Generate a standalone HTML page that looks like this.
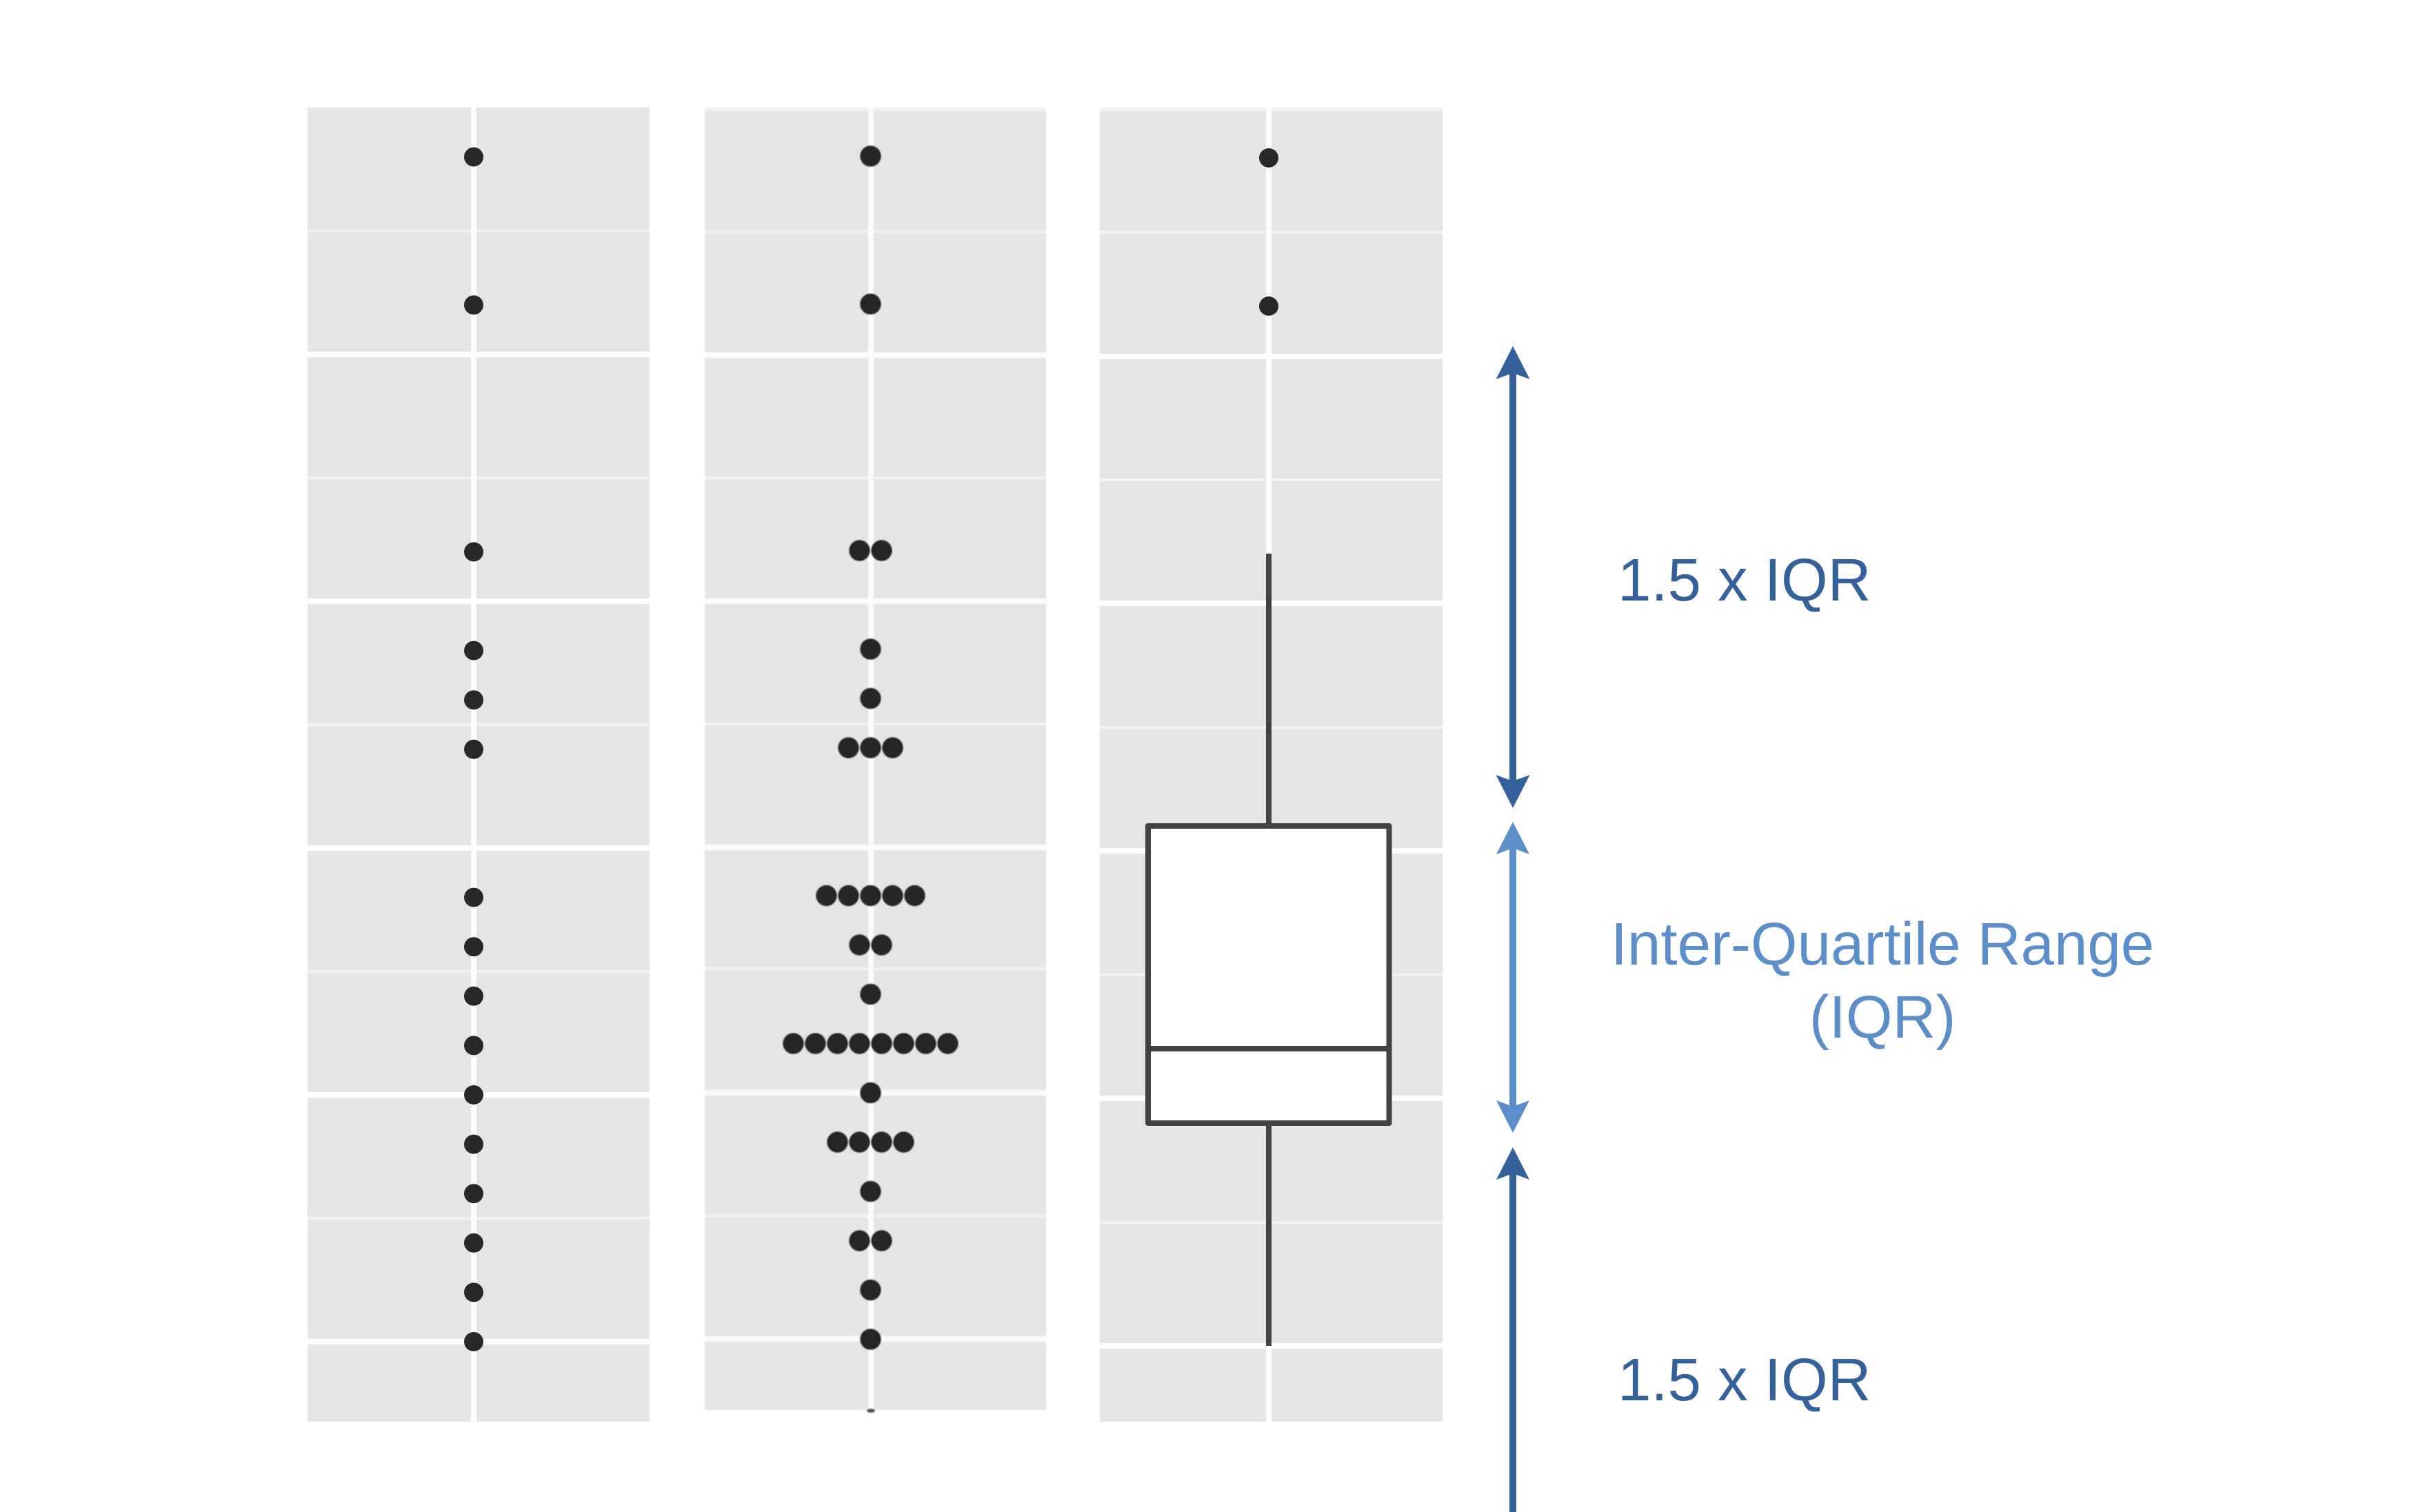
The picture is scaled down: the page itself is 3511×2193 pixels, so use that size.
<!DOCTYPE html>
<html>
<head>
<meta charset="utf-8">
<style>
  html, body { margin:0; padding:0; background:#ffffff; }
  body { width:3511px; height:2193px; overflow:hidden; }
  svg { display:block; }
  text { font-family:"Liberation Sans", Arial, sans-serif; }
</style>
</head>
<body>
<svg width="3511" height="2193" viewBox="0 0 3511 2193" xmlns="http://www.w3.org/2000/svg">
  <defs>
    <filter id="soft" x="-5%" y="-5%" width="110%" height="110%">
      <feGaussianBlur stdDeviation="0.9"/>
    </filter>
  </defs>
  <rect x="0" y="0" width="3511" height="2193" fill="#ffffff"/>

  <!-- ============ PANEL 1 ============ -->
  <g>
    <rect x="446" y="156" width="496" height="1906" fill="#e5e5e5"/>
    <!-- minor grid -->
    <g stroke="#f2f2f2" stroke-width="4">
      <line x1="446" x2="942" y1="335" y2="335"/>
      <line x1="446" x2="942" y1="693" y2="693"/>
      <line x1="446" x2="942" y1="1051" y2="1051"/>
      <line x1="446" x2="942" y1="1409" y2="1409"/>
      <line x1="446" x2="942" y1="1767" y2="1767"/>
    </g>
    <!-- major grid -->
    <g stroke="#ffffff" stroke-width="8">
      <line x1="446" x2="942" y1="514" y2="514"/>
      <line x1="446" x2="942" y1="872" y2="872"/>
      <line x1="446" x2="942" y1="1230" y2="1230"/>
      <line x1="446" x2="942" y1="1588" y2="1588"/>
      <line x1="446" x2="942" y1="1946" y2="1946"/>
      <line x1="687" x2="687" y1="156" y2="2062"/>
    </g>
    <g fill="#282828">
      <circle cx="687" cy="1946" r="14"/>
      <circle cx="687" cy="1874.4" r="14"/>
      <circle cx="687" cy="1802.8" r="14"/>
      <circle cx="687" cy="1731.2" r="14"/>
      <circle cx="687" cy="1659.6" r="14"/>
      <circle cx="687" cy="1588" r="14"/>
      <circle cx="687" cy="1516.4" r="14"/>
      <circle cx="687" cy="1444.8" r="14"/>
      <circle cx="687" cy="1373.2" r="14"/>
      <circle cx="687" cy="1301.6" r="14"/>
      <circle cx="687" cy="1086.8" r="14"/>
      <circle cx="687" cy="1015.2" r="14"/>
      <circle cx="687" cy="943.6" r="14"/>
      <circle cx="687" cy="800.4" r="14"/>
      <circle cx="687" cy="442.4" r="14"/>
      <circle cx="687" cy="227.6" r="14"/>
    </g>
  </g>

  <!-- ============ PANEL 2 (dot plot) ============ -->
  <g filter="url(#soft)">
    <rect x="1022" y="156" width="495" height="1889" fill="#e5e5e5"/>
    <rect x="1022" y="156" width="495" height="5" fill="#f1f1f1"/>
    <g stroke="#f2f2f2" stroke-width="4">
      <line x1="1022" x2="1517" y1="336" y2="336"/>
      <line x1="1022" x2="1517" y1="693" y2="693"/>
      <line x1="1022" x2="1517" y1="1050" y2="1050"/>
      <line x1="1022" x2="1517" y1="1405" y2="1405"/>
      <line x1="1022" x2="1517" y1="1763.5" y2="1763.5"/>
    </g>
    <g stroke="#fbfbfb" stroke-width="8">
      <line x1="1022" x2="1517" y1="515" y2="515"/>
      <line x1="1022" x2="1517" y1="872" y2="872"/>
      <line x1="1022" x2="1517" y1="1229" y2="1229"/>
      <line x1="1022" x2="1517" y1="1585" y2="1585"/>
      <line x1="1022" x2="1517" y1="1942" y2="1942"/>
      <line x1="1263" x2="1263" y1="156" y2="2045"/>
    </g>
    <g fill="#282828">
      <!-- k0 -->
      <circle cx="1262.5" cy="1942.5" r="15.5"/>
      <!-- k1 -->
      <circle cx="1262.5" cy="1871" r="15.5"/>
      <!-- k2 : 2 -->
      <circle cx="1246.5" cy="1799.5" r="15.5"/>
      <circle cx="1278.5" cy="1799.5" r="15.5"/>
      <!-- k3 -->
      <circle cx="1262.5" cy="1728" r="15.5"/>
      <!-- k4 : 4 -->
      <circle cx="1214.5" cy="1656.5" r="15.5"/>
      <circle cx="1246.5" cy="1656.5" r="15.5"/>
      <circle cx="1278.5" cy="1656.5" r="15.5"/>
      <circle cx="1310.5" cy="1656.5" r="15.5"/>
      <!-- k5 -->
      <circle cx="1262.5" cy="1585" r="15.5"/>
      <!-- k6 : 8 -->
      <circle cx="1150.5" cy="1513.5" r="15.5"/>
      <circle cx="1182.5" cy="1513.5" r="15.5"/>
      <circle cx="1214.5" cy="1513.5" r="15.5"/>
      <circle cx="1246.5" cy="1513.5" r="15.5"/>
      <circle cx="1278.5" cy="1513.5" r="15.5"/>
      <circle cx="1310.5" cy="1513.5" r="15.5"/>
      <circle cx="1342.5" cy="1513.5" r="15.5"/>
      <circle cx="1374.5" cy="1513.5" r="15.5"/>
      <!-- k7 -->
      <circle cx="1262.5" cy="1442" r="15.5"/>
      <!-- k8 : 2 -->
      <circle cx="1246.5" cy="1370.5" r="15.5"/>
      <circle cx="1278.5" cy="1370.5" r="15.5"/>
      <!-- k9 : 5 -->
      <circle cx="1198.5" cy="1299" r="15.5"/>
      <circle cx="1230.5" cy="1299" r="15.5"/>
      <circle cx="1262.5" cy="1299" r="15.5"/>
      <circle cx="1294.5" cy="1299" r="15.5"/>
      <circle cx="1326.5" cy="1299" r="15.5"/>
      <!-- k12 : 3 -->
      <circle cx="1230.5" cy="1084.5" r="15.5"/>
      <circle cx="1262.5" cy="1084.5" r="15.5"/>
      <circle cx="1294.5" cy="1084.5" r="15.5"/>
      <!-- k13 -->
      <circle cx="1262.5" cy="1013" r="15.5"/>
      <!-- k14 -->
      <circle cx="1262.5" cy="941.5" r="15.5"/>
      <!-- k16 : 2 -->
      <circle cx="1246.5" cy="798.5" r="15.5"/>
      <circle cx="1278.5" cy="798.5" r="15.5"/>
      <!-- k21 -->
      <circle cx="1262.5" cy="441" r="15.5"/>
      <!-- k24 -->
      <circle cx="1262.5" cy="226.5" r="15.5"/>
    </g>
    <ellipse cx="1263" cy="2046" rx="6" ry="3" fill="#555555"/>
  </g>

  <!-- ============ PANEL 3 (box plot) ============ -->
  <g>
    <rect x="1595" y="156" width="497" height="1906" fill="#e5e5e5"/>
    <rect x="1595" y="156" width="497" height="5" fill="#f1f1f1"/>
    <g stroke="#f2f2f2" stroke-width="4">
      <line x1="1595" x2="2092" y1="337" y2="337"/>
      <line x1="1595" x2="2092" y1="696" y2="696"/>
      <line x1="1595" x2="2092" y1="1055" y2="1055"/>
      <line x1="1595" x2="2092" y1="1413.5" y2="1413.5"/>
      <line x1="1595" x2="2092" y1="1773" y2="1773"/>
    </g>
    <g stroke="#ffffff" stroke-width="8">
      <line x1="1595" x2="2092" y1="517" y2="517"/>
      <line x1="1595" x2="2092" y1="875" y2="875"/>
      <line x1="1595" x2="2092" y1="1234" y2="1234"/>
      <line x1="1595" x2="2092" y1="1593" y2="1593"/>
      <line x1="1595" x2="2092" y1="1952" y2="1952"/>
      <line x1="1840" x2="1840" y1="156" y2="2062"/>
    </g>
    <g fill="#282828">
      <circle cx="1840" cy="229" r="14"/>
      <circle cx="1840" cy="444" r="14"/>
    </g>
    <!-- whiskers -->
    <g stroke="#424242" stroke-width="8">
      <line x1="1840" x2="1840" y1="803" y2="1198"/>
      <line x1="1840" x2="1840" y1="1629" y2="1952"/>
    </g>
    <!-- box -->
    <rect x="1665" y="1198" width="349.5" height="431" fill="#ffffff" stroke="#424242" stroke-width="8" stroke-linejoin="round"/>
    <line x1="1665" x2="2014.5" y1="1521" y2="1521" stroke="#424242" stroke-width="8"/>
  </g>

  <!-- ============ ARROWS ============ -->
  <!-- upper dark double arrow -->
  <g fill="#34609c">
    <rect x="2189" y="536" width="10" height="602"/>
    <polygon points="2194,502 2218.5,550 2194,541 2169.5,550"/>
    <polygon points="2194,1172 2218.5,1124 2194,1133 2169.5,1124"/>
  </g>
  <!-- light IQR double arrow -->
  <g fill="#5b8ecb">
    <rect x="2189" y="1226" width="10" height="384"/>
    <polygon points="2194,1192 2218,1239 2194,1230 2170,1239"/>
    <polygon points="2194,1643 2218,1596 2194,1605 2170,1596"/>
  </g>
  <!-- lower dark arrow -->
  <g fill="#34609c">
    <rect x="2189" y="1698" width="10" height="495"/>
    <polygon points="2194,1664 2218,1711 2194,1702 2170,1711"/>
  </g>

  <!-- ============ LABELS ============ -->
  <text x="2346" y="871" font-size="87" fill="#34609c">1.5 x IQR</text>
  <text x="2730" y="1399" font-size="87" fill="#5b8ecb" text-anchor="middle">Inter-Quartile Range</text>
  <text x="2730" y="1505" font-size="87" fill="#5b8ecb" text-anchor="middle">(IQR)</text>
  <text x="2346" y="2031" font-size="87" fill="#34609c">1.5 x IQR</text>
</svg>
</body>
</html>
